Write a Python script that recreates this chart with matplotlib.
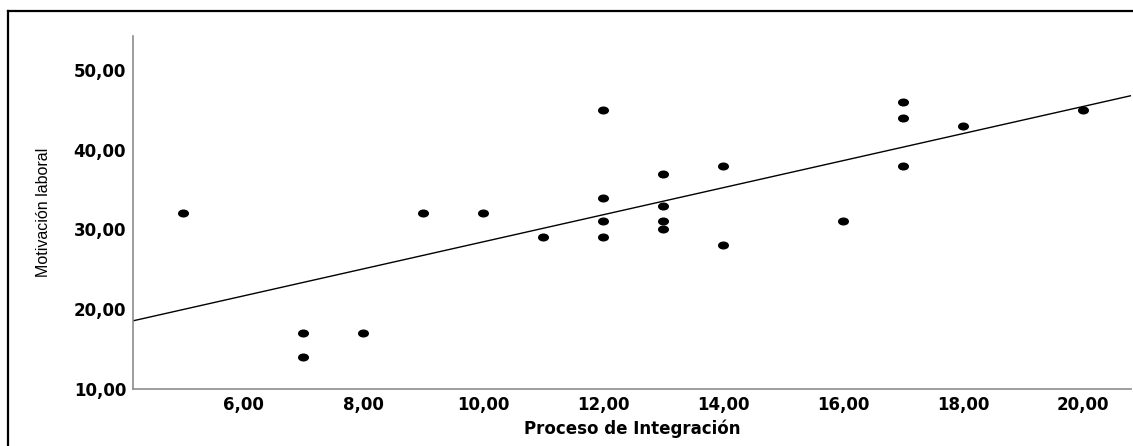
import numpy as np
import matplotlib.pyplot as plt
from matplotlib.lines import Line2D
from matplotlib.path import Path
from matplotlib.transforms import Affine2D

# Proceso de Integración vs Motivación laboral
integracion = [5, 7, 7, 8, 9, 10, 11, 12, 12, 12, 12, 13, 13, 13, 13, 14, 14, 16, 17, 17, 17, 18, 20]
motivacion = [32, 17, 14, 17, 32, 32, 29, 45, 34, 31, 29, 37, 33, 31, 30, 38, 28, 31, 46, 44, 38, 43, 45]

x_ticks = [6, 8, 10, 12, 14, 16, 18, 20]
y_ticks = [10, 20, 30, 40, 50]

x = np.array(integracion, dtype=float)
y = np.array(motivacion, dtype=float)

fit = np.poly1d(np.polyfit(x, y, 1))

fig = plt.figure(figsize=(11.33, 4.46), dpi=100)
ax = fig.add_axes([0.1174, 0.1278, 0.8808, 0.7915])

xlim = (4.1667, 20.8)
ax.set_xlim(xlim)
ax.set_ylim(10, 54.25)

xx = np.array(xlim)
ax.plot(xx, fit(xx), color='black', lw=1.0, zorder=2)

# SPSS dots are a bit wider than tall
dot = Path.unit_circle().transformed(Affine2D().scale(1.45, 1.0))
ax.scatter(x, y, s=48, marker=dot, color='black', zorder=3)

fmt = lambda v: f"{v:.2f}".replace('.', ',')
ax.set_xticks(x_ticks)
ax.set_xticklabels([fmt(v) for v in x_ticks])
ax.set_yticks(y_ticks)
ax.set_yticklabels([fmt(v) for v in y_ticks])

for lab in ax.get_xticklabels() + ax.get_yticklabels():
    lab.set_fontfamily('DejaVu Sans')
    lab.set_fontweight('bold')
    lab.set_fontsize(12)

ax.tick_params(axis='x', length=0, pad=5)
ax.tick_params(axis='y', length=0, pad=5)

for s in ['top', 'right']:
    ax.spines[s].set_visible(False)
for s in ['left', 'bottom']:
    ax.spines[s].set_color('#8c8c8c')
    ax.spines[s].set_linewidth(1.2)

ax.set_xlabel('Proceso de Integración', fontfamily='DejaVu Sans', fontweight='bold',
              fontsize=12, labelpad=4)
ax.set_ylabel('Motivación laboral', family=['Liberation Sans Narrow', 'Liberation Sans'],
              fontsize=11.5, labelpad=16)

# outer frame (top and left edges visible in the original crop)
W, H = 1133, 446
fig.add_artist(Line2D([8 / W, 8 / W], [0, 1 - 11 / H], color='black', lw=1.6,
                      transform=fig.transFigure))
fig.add_artist(Line2D([8 / W, 1], [1 - 11 / H, 1 - 11 / H], color='black', lw=1.6,
                      transform=fig.transFigure))

fig.savefig('out.png', dpi=100)
